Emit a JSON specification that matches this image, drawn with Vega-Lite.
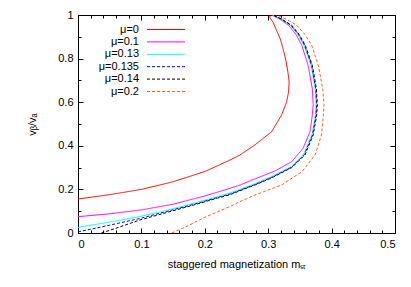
{
  "$schema": "https://vega.github.io/schema/vega-lite/v6.json",
  "width": 317,
  "height": 218,
  "autosize": {"type": "none"},
  "padding": {"left": 78, "top": 15, "right": 16, "bottom": 54},
  "background": "white",
  "config": {
    "view": {"stroke": "black", "strokeWidth": 1},
    "font": "Liberation Sans",
    "axis": {
      "domain": false,
      "grid": false,
      "labelFont": "Liberation Sans",
      "labelFontSize": 11,
      "labelColor": "black",
      "titleFont": "Liberation Sans",
      "titleFontSize": 11,
      "titleFontWeight": "normal",
      "titleColor": "black",
      "tickColor": "black",
      "tickWidth": 1
    },
    "legend": {
      "orient": "none",
      "legendX": 82.5,
      "legendY": 9,
      "padding": 0,
      "symbolType": "M-3.8,0H3.8",
      "symbolSize": 100,
      "symbolStrokeWidth": 1,
      "labelAlign": "right",
      "labelOffset": -32.5,
      "rowPadding": 0.4,
      "labelFont": "Liberation Sans",
      "labelFontSize": 11,
      "labelColor": "black"
    }
  },
  "datasets": {
    "c": [
      {"s": "μ=0", "i": 0, "m": 0, "v": 0.156},
      {"s": "μ=0", "i": 1, "m": 0.05, "v": 0.176},
      {"s": "μ=0", "i": 2, "m": 0.1, "v": 0.2},
      {"s": "μ=0", "i": 3, "m": 0.15, "v": 0.235},
      {"s": "μ=0", "i": 4, "m": 0.2, "v": 0.282},
      {"s": "μ=0", "i": 5, "m": 0.24, "v": 0.335},
      {"s": "μ=0", "i": 6, "m": 0.2555, "v": 0.358},
      {"s": "μ=0", "i": 7, "m": 0.279, "v": 0.404},
      {"s": "μ=0", "i": 8, "m": 0.3055, "v": 0.465},
      {"s": "μ=0", "i": 9, "m": 0.321, "v": 0.541},
      {"s": "μ=0", "i": 10, "m": 0.329, "v": 0.6},
      {"s": "μ=0", "i": 11, "m": 0.332, "v": 0.645},
      {"s": "μ=0", "i": 12, "m": 0.333, "v": 0.693},
      {"s": "μ=0", "i": 13, "m": 0.331, "v": 0.74},
      {"s": "μ=0", "i": 14, "m": 0.328, "v": 0.79},
      {"s": "μ=0", "i": 15, "m": 0.324, "v": 0.84},
      {"s": "μ=0", "i": 16, "m": 0.319, "v": 0.891},
      {"s": "μ=0", "i": 17, "m": 0.313, "v": 0.93},
      {"s": "μ=0", "i": 18, "m": 0.308, "v": 0.965},
      {"s": "μ=0", "i": 19, "m": 0.305, "v": 0.978},
      {"s": "μ=0", "i": 20, "m": 0.3025, "v": 0.99},
      {"s": "μ=0", "i": 21, "m": 0.3035, "v": 1.0},

      {"s": "μ=0.1", "i": 0, "m": 0, "v": 0.075},
      {"s": "μ=0.1", "i": 1, "m": 0.05, "v": 0.088},
      {"s": "μ=0.1", "i": 2, "m": 0.1, "v": 0.106},
      {"s": "μ=0.1", "i": 3, "m": 0.15, "v": 0.132},
      {"s": "μ=0.1", "i": 4, "m": 0.2, "v": 0.17},
      {"s": "μ=0.1", "i": 5, "m": 0.24, "v": 0.205},
      {"s": "μ=0.1", "i": 6, "m": 0.2555, "v": 0.22},
      {"s": "μ=0.1", "i": 7, "m": 0.279, "v": 0.248},
      {"s": "μ=0.1", "i": 8, "m": 0.311, "v": 0.285},
      {"s": "μ=0.1", "i": 9, "m": 0.337, "v": 0.327},
      {"s": "μ=0.1", "i": 10, "m": 0.355, "v": 0.388},
      {"s": "μ=0.1", "i": 11, "m": 0.366, "v": 0.465},
      {"s": "μ=0.1", "i": 12, "m": 0.3696, "v": 0.541},
      {"s": "μ=0.1", "i": 13, "m": 0.371, "v": 0.59},
      {"s": "μ=0.1", "i": 14, "m": 0.3696, "v": 0.662},
      {"s": "μ=0.1", "i": 15, "m": 0.363, "v": 0.769},
      {"s": "μ=0.1", "i": 16, "m": 0.353, "v": 0.861},
      {"s": "μ=0.1", "i": 17, "m": 0.344, "v": 0.91},
      {"s": "μ=0.1", "i": 18, "m": 0.332, "v": 0.953},
      {"s": "μ=0.1", "i": 19, "m": 0.32, "v": 0.978},
      {"s": "μ=0.1", "i": 20, "m": 0.3055, "v": 1.0},

      {"s": "μ=0.13", "i": 0, "m": 0, "v": 0.026},
      {"s": "μ=0.13", "i": 1, "m": 0.05, "v": 0.05},
      {"s": "μ=0.13", "i": 2, "m": 0.098, "v": 0.076},
      {"s": "μ=0.13", "i": 3, "m": 0.14, "v": 0.104},
      {"s": "μ=0.13", "i": 4, "m": 0.182, "v": 0.136},
      {"s": "μ=0.13", "i": 5, "m": 0.22, "v": 0.167},
      {"s": "μ=0.13", "i": 6, "m": 0.24, "v": 0.184},
      {"s": "μ=0.13", "i": 7, "m": 0.2555, "v": 0.2},
      {"s": "μ=0.13", "i": 8, "m": 0.279, "v": 0.226},
      {"s": "μ=0.13", "i": 9, "m": 0.3055, "v": 0.259},
      {"s": "μ=0.13", "i": 10, "m": 0.337, "v": 0.306},
      {"s": "μ=0.13", "i": 11, "m": 0.356, "v": 0.362},
      {"s": "μ=0.13", "i": 12, "m": 0.369, "v": 0.45},
      {"s": "μ=0.13", "i": 13, "m": 0.3745, "v": 0.541},
      {"s": "μ=0.13", "i": 14, "m": 0.3755, "v": 0.59},
      {"s": "μ=0.13", "i": 15, "m": 0.374, "v": 0.662},
      {"s": "μ=0.13", "i": 16, "m": 0.3676, "v": 0.769},
      {"s": "μ=0.13", "i": 17, "m": 0.3565, "v": 0.861},
      {"s": "μ=0.13", "i": 18, "m": 0.347, "v": 0.91},
      {"s": "μ=0.13", "i": 19, "m": 0.335, "v": 0.953},
      {"s": "μ=0.13", "i": 20, "m": 0.32, "v": 0.98},
      {"s": "μ=0.13", "i": 21, "m": 0.307, "v": 1.0},

      {"s": "μ=0.135", "i": 0, "m": 0, "v": 0.005},
      {"s": "μ=0.135", "i": 1, "m": 0.05, "v": 0.036},
      {"s": "μ=0.135", "i": 2, "m": 0.098, "v": 0.067},
      {"s": "μ=0.135", "i": 3, "m": 0.14, "v": 0.099},
      {"s": "μ=0.135", "i": 4, "m": 0.182, "v": 0.131},
      {"s": "μ=0.135", "i": 5, "m": 0.22, "v": 0.163},
      {"s": "μ=0.135", "i": 6, "m": 0.24, "v": 0.179},
      {"s": "μ=0.135", "i": 7, "m": 0.2555, "v": 0.196},
      {"s": "μ=0.135", "i": 8, "m": 0.279, "v": 0.222},
      {"s": "μ=0.135", "i": 9, "m": 0.3055, "v": 0.255},
      {"s": "μ=0.135", "i": 10, "m": 0.337, "v": 0.302},
      {"s": "μ=0.135", "i": 11, "m": 0.357, "v": 0.36},
      {"s": "μ=0.135", "i": 12, "m": 0.37, "v": 0.45},
      {"s": "μ=0.135", "i": 13, "m": 0.3755, "v": 0.541},
      {"s": "μ=0.135", "i": 14, "m": 0.3765, "v": 0.59},
      {"s": "μ=0.135", "i": 15, "m": 0.375, "v": 0.662},
      {"s": "μ=0.135", "i": 16, "m": 0.3686, "v": 0.769},
      {"s": "μ=0.135", "i": 17, "m": 0.3575, "v": 0.861},
      {"s": "μ=0.135", "i": 18, "m": 0.348, "v": 0.91},
      {"s": "μ=0.135", "i": 19, "m": 0.336, "v": 0.953},
      {"s": "μ=0.135", "i": 20, "m": 0.321, "v": 0.98},
      {"s": "μ=0.135", "i": 21, "m": 0.3075, "v": 1.0},

      {"s": "μ=0.14", "i": 0, "m": 0.037, "v": 0},
      {"s": "μ=0.14", "i": 1, "m": 0.06, "v": 0.022},
      {"s": "μ=0.14", "i": 2, "m": 0.098, "v": 0.06},
      {"s": "μ=0.14", "i": 3, "m": 0.14, "v": 0.094},
      {"s": "μ=0.14", "i": 4, "m": 0.182, "v": 0.128},
      {"s": "μ=0.14", "i": 5, "m": 0.22, "v": 0.16},
      {"s": "μ=0.14", "i": 6, "m": 0.24, "v": 0.176},
      {"s": "μ=0.14", "i": 7, "m": 0.2555, "v": 0.194},
      {"s": "μ=0.14", "i": 8, "m": 0.279, "v": 0.22},
      {"s": "μ=0.14", "i": 9, "m": 0.3055, "v": 0.253},
      {"s": "μ=0.14", "i": 10, "m": 0.337, "v": 0.3},
      {"s": "μ=0.14", "i": 11, "m": 0.358, "v": 0.358},
      {"s": "μ=0.14", "i": 12, "m": 0.371, "v": 0.45},
      {"s": "μ=0.14", "i": 13, "m": 0.3765, "v": 0.541},
      {"s": "μ=0.14", "i": 14, "m": 0.3775, "v": 0.59},
      {"s": "μ=0.14", "i": 15, "m": 0.376, "v": 0.662},
      {"s": "μ=0.14", "i": 16, "m": 0.3696, "v": 0.769},
      {"s": "μ=0.14", "i": 17, "m": 0.3585, "v": 0.861},
      {"s": "μ=0.14", "i": 18, "m": 0.349, "v": 0.91},
      {"s": "μ=0.14", "i": 19, "m": 0.337, "v": 0.953},
      {"s": "μ=0.14", "i": 20, "m": 0.322, "v": 0.98},
      {"s": "μ=0.14", "i": 21, "m": 0.308, "v": 1.0},

      {"s": "μ=0.2", "i": 0, "m": 0.148, "v": 0},
      {"s": "μ=0.2", "i": 1, "m": 0.17, "v": 0.028},
      {"s": "μ=0.2", "i": 2, "m": 0.2, "v": 0.072},
      {"s": "μ=0.2", "i": 3, "m": 0.24, "v": 0.122},
      {"s": "μ=0.2", "i": 4, "m": 0.2555, "v": 0.144},
      {"s": "μ=0.2", "i": 5, "m": 0.279, "v": 0.174},
      {"s": "μ=0.2", "i": 6, "m": 0.321, "v": 0.22},
      {"s": "μ=0.2", "i": 7, "m": 0.353, "v": 0.281},
      {"s": "μ=0.2", "i": 8, "m": 0.374, "v": 0.358},
      {"s": "μ=0.2", "i": 9, "m": 0.384, "v": 0.45},
      {"s": "μ=0.2", "i": 10, "m": 0.387, "v": 0.541},
      {"s": "μ=0.2", "i": 11, "m": 0.388, "v": 0.59},
      {"s": "μ=0.2", "i": 12, "m": 0.386, "v": 0.662},
      {"s": "μ=0.2", "i": 13, "m": 0.379, "v": 0.769},
      {"s": "μ=0.2", "i": 14, "m": 0.3686, "v": 0.861},
      {"s": "μ=0.2", "i": 15, "m": 0.358, "v": 0.91},
      {"s": "μ=0.2", "i": 16, "m": 0.345, "v": 0.953},
      {"s": "μ=0.2", "i": 17, "m": 0.329, "v": 0.98},
      {"s": "μ=0.2", "i": 18, "m": 0.313, "v": 1.0}
    ]
  },
  "layer": [
    {
      "data": {"name": "c"},
      "mark": {"type": "line", "strokeWidth": 1, "clip": true},
      "encoding": {
        "x": {"field": "m", "type": "quantitative",
              "scale": {"domain": [0, 0.5], "nice": false, "zero": false},
              "axis": {"orient": "bottom", "values": [0, 0.1, 0.2, 0.3, 0.4, 0.5], "format": "~g",
                       "tickSize": -5, "labelPadding": 10,
                       "title": "staggered magnetization mₛₜ", "titlePadding": 9}},
        "y": {"field": "v", "type": "quantitative",
              "scale": {"domain": [0, 1], "nice": false, "zero": false},
              "axis": {"orient": "left", "values": [0, 0.2, 0.4, 0.6, 0.8, 1], "format": "~g",
                       "tickSize": -5, "labelPadding": 10,
                       "title": "vᵦ/vₐ", "titlePadding": 20}},
        "order": {"field": "i", "type": "quantitative"},
        "color": {"field": "s", "type": "nominal",
                  "scale": {"domain": ["μ=0", "μ=0.1", "μ=0.13", "μ=0.135", "μ=0.14", "μ=0.2"],
                            "range": ["#ff0000", "#ff00ff", "#00ffff", "#0000ff", "#000000", "#ff6020"]},
                  "legend": {"title": null}},
        "strokeDash": {"field": "s", "type": "nominal",
                       "scale": {"domain": ["μ=0", "μ=0.1", "μ=0.13", "μ=0.135", "μ=0.14", "μ=0.2"],
                                 "range": [[1, 0], [1, 0], [1, 0], [3, 2], [3, 2], [3, 2]]},
                       "legend": {"title": null}}
      }
    },
    {
      "data": {"name": "c"},
      "mark": {"type": "point", "opacity": 0},
      "encoding": {
        "x": {"field": "m", "type": "quantitative",
              "axis": {"orient": "top", "values": [0, 0.1, 0.2, 0.3, 0.4, 0.5], "labels": false,
                       "tickSize": -5, "title": null}},
        "y": {"field": "v", "type": "quantitative",
              "axis": {"orient": "right", "values": [0, 0.2, 0.4, 0.6, 0.8, 1], "labels": false,
                       "tickSize": -5, "title": null}}
      }
    },
    {
      "data": {"name": "c"},
      "mark": {"type": "point", "opacity": 0},
      "encoding": {
        "x": {"field": "m", "type": "quantitative",
              "axis": {"orient": "bottom", "values": [0.02, 0.04, 0.06, 0.08, 0.12, 0.14, 0.16, 0.18, 0.22, 0.24, 0.26, 0.28, 0.32, 0.34, 0.36, 0.38, 0.42, 0.44, 0.46, 0.48],
                       "labels": false, "tickSize": -3, "title": null}},
        "y": {"field": "v", "type": "quantitative",
              "axis": {"orient": "left", "values": [0.1, 0.3, 0.5, 0.7, 0.9], "labels": false,
                       "tickSize": -3, "title": null}}
      }
    },
    {
      "data": {"name": "c"},
      "mark": {"type": "point", "opacity": 0},
      "encoding": {
        "x": {"field": "m", "type": "quantitative",
              "axis": {"orient": "top", "values": [0.02, 0.04, 0.06, 0.08, 0.12, 0.14, 0.16, 0.18, 0.22, 0.24, 0.26, 0.28, 0.32, 0.34, 0.36, 0.38, 0.42, 0.44, 0.46, 0.48],
                       "labels": false, "tickSize": -3, "title": null}},
        "y": {"field": "v", "type": "quantitative",
              "axis": {"orient": "right", "values": [0.1, 0.3, 0.5, 0.7, 0.9], "labels": false,
                       "tickSize": -3, "title": null}}
      }
    }
  ],
  "resolve": {"axis": {"x": "independent", "y": "independent"}}
}
